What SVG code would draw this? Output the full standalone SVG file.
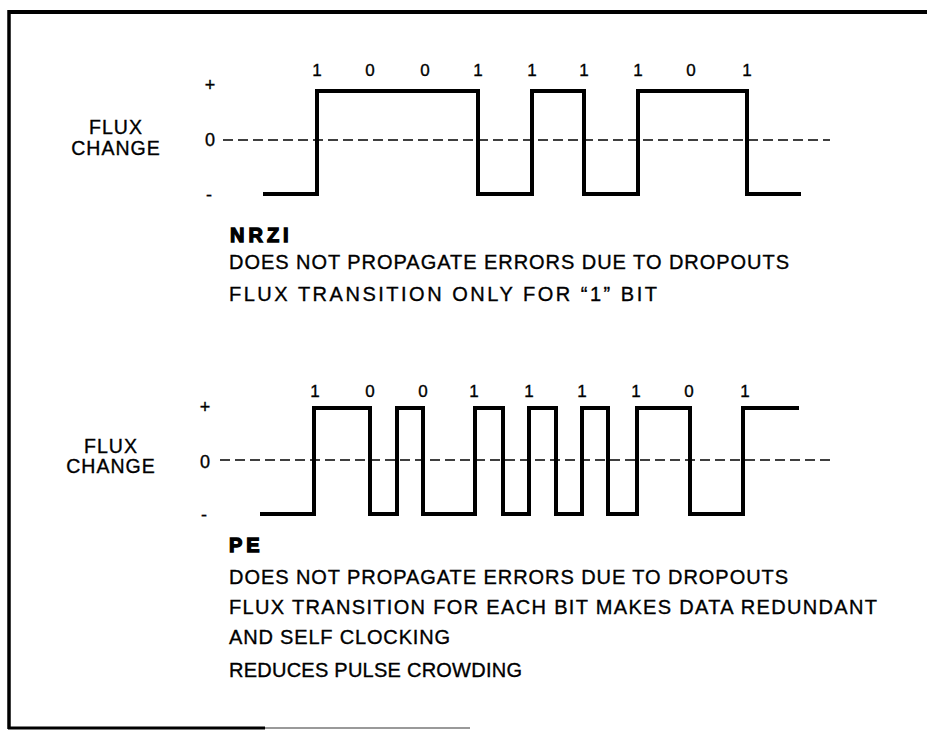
<svg xmlns="http://www.w3.org/2000/svg" width="927" height="731" viewBox="0 0 927 731">
<style>
text{font-family:"Liberation Sans",Arial,sans-serif;fill:#000;stroke:#000;stroke-width:0.35px}
.lbl{font-size:19.5px}
.bit{font-size:17px;text-anchor:middle}
.sym{font-size:18px;text-anchor:middle}
.ttl{font-size:20px;font-weight:bold;stroke-width:1.3px}
.body{font-size:20px}
.wave{fill:none;stroke:#000;stroke-width:4;stroke-linejoin:miter;stroke-linecap:square}
.zero{stroke:#000;stroke-width:1.5;stroke-dasharray:10 5;fill:none}
.frame{stroke:#000;fill:none}
</style>
<rect width="927" height="731" fill="#fff"/>
<g id="frame">
<line class="frame" x1="8" y1="12" x2="927" y2="12" stroke-width="4"/>
<line class="frame" x1="9" y1="10" x2="9" y2="729" stroke-width="3.5"/>
<line class="frame" x1="8" y1="728" x2="265" y2="728" stroke-width="3"/>
<line x1="265" y1="728" x2="470" y2="728" stroke="#777" stroke-width="1.5"/>
</g>
<g id="nrzi-chart">
<text class="lbl" x="116" y="134" text-anchor="middle" letter-spacing="1">FLUX</text>
<text class="lbl" x="116" y="155" text-anchor="middle" letter-spacing="1">CHANGE</text>
<text class="sym" x="210" y="91">+</text>
<text class="sym" x="210" y="146">0</text>
<text class="sym" x="209" y="201">-</text>
<g class="bits">
<text class="bit" x="317" y="76">1</text>
<text class="bit" x="370" y="76">0</text>
<text class="bit" x="425" y="76">0</text>
<text class="bit" x="478" y="76">1</text>
<text class="bit" x="532" y="76">1</text>
<text class="bit" x="584" y="76">1</text>
<text class="bit" x="638" y="76">1</text>
<text class="bit" x="691" y="76">0</text>
<text class="bit" x="747" y="76">1</text>
</g>
<line class="zero" x1="223" y1="140" x2="830" y2="140"/>
<path class="wave" d="M265,194 H317 V91 H478 V194 H532 V91 H584 V194 H638 V91 H747 V194 H799"/>
</g>
<g id="nrzi-notes">
<text class="ttl" x="230" y="242" letter-spacing="4">NRZI</text>
<text class="body" x="229" y="269" textLength="560" lengthAdjust="spacing">DOES NOT PROPAGATE ERRORS DUE TO DROPOUTS</text>
<text class="body" x="229" y="301" textLength="428" lengthAdjust="spacing">FLUX TRANSITION ONLY FOR “1” BIT</text>
</g>
<g id="pe-chart">
<text class="lbl" x="111" y="453" text-anchor="middle" letter-spacing="1">FLUX</text>
<text class="lbl" x="111" y="473" text-anchor="middle" letter-spacing="1">CHANGE</text>
<text class="sym" x="205" y="413">+</text>
<text class="sym" x="205" y="468">0</text>
<text class="sym" x="204" y="521">-</text>
<g class="bits">
<text class="bit" x="315" y="397">1</text>
<text class="bit" x="370" y="397">0</text>
<text class="bit" x="423" y="397">0</text>
<text class="bit" x="474" y="397">1</text>
<text class="bit" x="529" y="397">1</text>
<text class="bit" x="582" y="397">1</text>
<text class="bit" x="636" y="397">1</text>
<text class="bit" x="689" y="397">0</text>
<text class="bit" x="745" y="397">1</text>
</g>
<line class="zero" x1="220" y1="460" x2="830" y2="460"/>
<path class="wave" d="M262,514 H314 V408 H370 V514 H397 V408 H423 V514 H475 V408 H503 V514 H529 V408 H556 V514 H582 V408 H608 V514 H637 V408 H690 V514 H743 V408 H797"/>
</g>
<g id="pe-notes">
<text class="ttl" x="229" y="552" letter-spacing="4">PE</text>
<text class="body" x="229" y="584" textLength="559" lengthAdjust="spacing">DOES NOT PROPAGATE ERRORS DUE TO DROPOUTS</text>
<text class="body" x="229" y="614" textLength="648" lengthAdjust="spacing">FLUX TRANSITION FOR EACH BIT MAKES DATA REDUNDANT</text>
<text class="body" x="229" y="644" textLength="221" lengthAdjust="spacing">AND SELF CLOCKING</text>
<text class="body" x="229" y="677" textLength="293" lengthAdjust="spacing">REDUCES PULSE CROWDING</text>
</g>
</svg>
